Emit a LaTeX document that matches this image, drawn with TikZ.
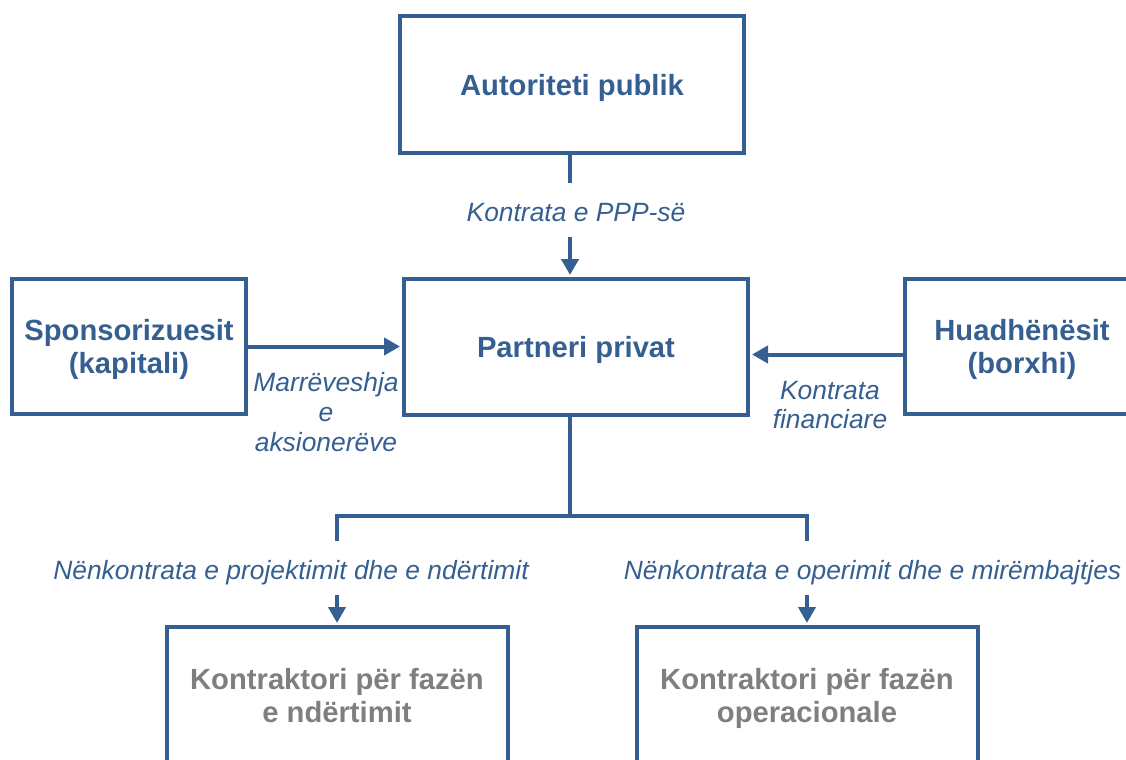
\documentclass[tikz,border=0pt]{standalone}
\usepackage{fontspec}
\setmainfont{Liberation Sans}
\usetikzlibrary{arrows.meta}
\definecolor{ppblue}{HTML}{365F91}
\definecolor{ppgrey}{HTML}{7F7F7F}

\begin{document}
\begin{tikzpicture}[x=0.5pt,y=-0.5pt,
	box/.style={draw=ppblue, line width=2pt, minimum width=172pt, minimum height=68.5pt, align=center, text depth=0pt, text=ppblue, font=\fontsize{14.6}{16.5}\selectfont\bfseries},
	sidebox/.style={box, minimum width=117pt, minimum height=67.5pt},
	subbox/.style={box, minimum width=170.5pt, text=ppgrey},
	lbl/.style={align=center, text=ppblue, font=\fontsize{13.2}{14.8}\selectfont\itshape, inner xsep=0pt},
	gaplbl/.style={lbl, text height=12pt, text depth=0.3pt, inner ysep=7.3pt},
	link/.style={draw=ppblue, line width=2pt},
	pparrow/.style={-{Triangle[length=8pt,width=8.5pt]}, shorten >=1pt}]
	\useasboundingbox (0,0) rectangle (1126,760);
	\node[box] (auth) at (572,84.5) {Autoriteti publik};
	\node[box, minimum height=68pt] (partner) at (576,347) {Partneri privat};
	\node[sidebox] (spons) at (129,346.5) {Sponsorizuesit\\(kapitali)};
	\node[sidebox] (lend) at (1022,346.5) {Huadhënësit\\(borxhi)};
	\node[subbox] (build) at (337,695.5) {Kontraktori për fazën\\e ndërtimit};
	\node[subbox] (oper) at (807,695.5) {Kontraktori për fazën\\operacionale};
	\node[gaplbl] (ppp) at (576,210) {Kontrata e PPP-së};
	\node[lbl] (share) at (326,412) {Marrëveshja\\e\\aksionerëve};
	\node[lbl] (fin) at (830,405) {Kontrata\\financiare};
	\node[gaplbl] (buildl) at (291,568) {Nënkontrata e projektimit dhe e ndërtimit};
	\node[gaplbl] (operl) at (872.5,568) {Nënkontrata e operimit dhe e mirëmbajtjes};
	\coordinate (split) at (570,516);
	\draw[link] (auth.south -| split) -- (ppp.north -| split);
	\draw[link,pparrow] (ppp.south -| split) -- (partner.north -| split);
	\draw[link,pparrow] (spons.east) -- (partner.west |- spons.east);
	\draw[link,pparrow] ([yshift=-4pt]lend.west) -- ([yshift=-4pt]lend.west -| partner.east);
	\draw[link] (partner.south -| split) -- (split) -| (buildl.north -| build);
	\draw[link] (split) -| (operl.north -| oper);
	\draw[link,pparrow] (buildl.south -| build) -- (build.north);
	\draw[link,pparrow] (operl.south -| oper) -- (oper.north);
\end{tikzpicture}
\end{document}
